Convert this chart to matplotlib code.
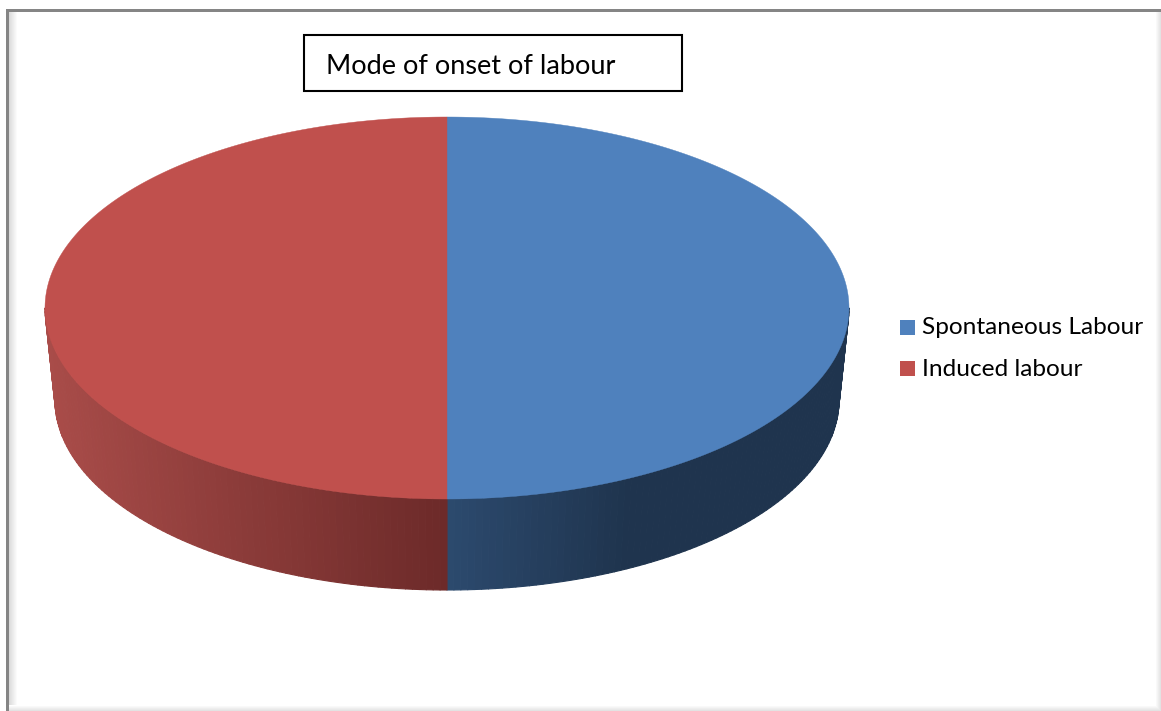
import matplotlib
matplotlib.use("Agg")
import matplotlib.pyplot as plt
import numpy as np
from matplotlib.collections import PolyCollection
from matplotlib.patches import Rectangle

title = "Mode of onset of labour"
labels = ["Spontaneous Labour", "Induced labour"]
values = [50, 50]
top_colors = ["#4f81bd", "#c0504d"]
# colour of the side wall: at the outer end of the slice, then at the front
wall_outer = ["#1f344e", "#a94c49"]
wall_front = ["#2c4a6e", "#6c2a29"]

plt.rcParams['font.family'] = ['Lato', 'DejaVu Sans']

fig = plt.figure(figsize=(11.61, 7.11), dpi=100)
ax = fig.add_axes([0, 0, 1, 1])
ax.set_xlim(0, 1161)
ax.set_ylim(711, 0)
ax.axis("off")

# frame with its soft shadow
for i in range(8):
    g = 0.86 + 0.14 * i / 8
    ax.add_patch(Rectangle((9 + i, 11), 1, 696, color=(g, g, g), lw=0))
for i in range(6):
    g = 1 - 0.11 * i / 5
    ax.add_patch(Rectangle((1155 + i, 11), 1, 700, color=(g, g, g), lw=0))
    ax.add_patch(Rectangle((9, 705 + i), 1152, 1, color=(g, g, g), lw=0))
ax.add_patch(Rectangle((6, 9), 3, 702, color="#858585", lw=0))
ax.add_patch(Rectangle((6, 9), 1155, 3, color="#858585", lw=0))

# top and bottom ellipse of the disc
cx, cy, a, b = 447, 308, 402, 191
cy2, a2, b2 = 400, 392, 190


def top_xy(t):
    return cx + a * np.cos(t), cy + b * np.sin(t)


def bottom_xy(t):
    return cx + a2 * np.cos(t), cy2 + b2 * np.sin(t)


fractions = np.array(values) / sum(values)
edges = -90 + 360 * np.concatenate([[0], np.cumsum(fractions)])

# side walls first, only the front half can be seen
for i in range(len(values)):
    start = max(edges[i], 0)
    stop = min(edges[i + 1], 180)
    if start >= stop:
        continue
    tt = np.radians(np.linspace(start, stop, 90))
    quads = []
    cols = []
    c_front = np.array(matplotlib.colors.to_rgb(wall_front[i]))
    c_outer = np.array(matplotlib.colors.to_rgb(wall_outer[i]))
    for t0, t1 in zip(tt[:-1], tt[1:]):
        x0, y0 = top_xy(t0)
        x1, y1 = top_xy(t1)
        x2, y2 = bottom_xy(t1)
        x3, y3 = bottom_xy(t0)
        quads.append([(x0, y0), (x1, y1), (x2, y2), (x3, y3)])
        # shading follows the horizontal distance from the front
        d = abs((t0 + t1) / 2 - np.pi / 2)
        s = np.sin(d)
        if i == 0:
            s = min(s / 0.45, 1)
        cols.append(c_front + (c_outer - c_front) * s)
    ax.add_collection(PolyCollection(quads, facecolors=cols, edgecolors=cols, linewidths=0.8))

# top faces
for i in range(len(values)):
    tt = np.radians(np.linspace(edges[i], edges[i + 1], 300))
    xs, ys = top_xy(tt)
    ax.fill(np.r_[cx, xs], np.r_[cy, ys], color=top_colors[i], lw=0.3)

# title box
ax.add_patch(Rectangle((304, 35), 378, 56, fc="white", ec="black", lw=1.5))
ax.text(326, 66, title, fontsize=19.5, color="black", va="center", ha="left")

# legend
legend_y = [327.5, 368.5]
for lab, col, y in zip(labels, top_colors, legend_y):
    ax.add_patch(Rectangle((900, y - 7.5), 15, 15, color=col, lw=0))
    ax.text(922, y + 0.5, lab, fontsize=17.6, color="black", va="center", ha="left")

fig.savefig("out.png", dpi=100)
plt.close()
